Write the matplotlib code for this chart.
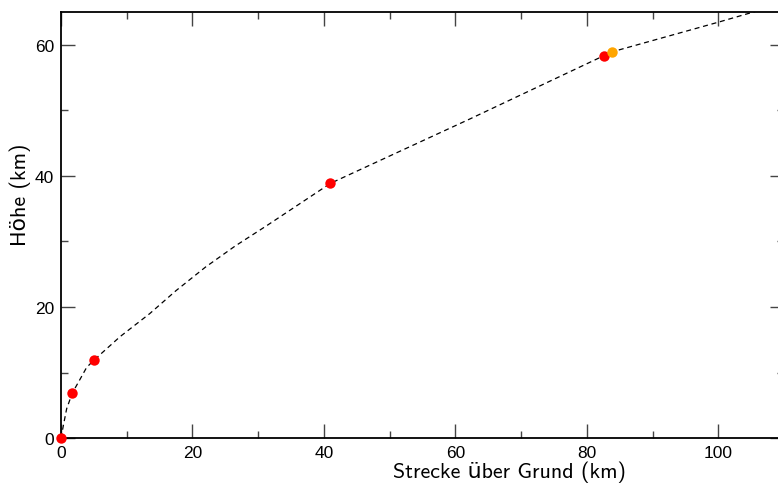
import matplotlib
matplotlib.use("Agg")
import matplotlib.pyplot as plt
from matplotlib.ticker import MultipleLocator

# trajectory (dashed line)
line_x = [0, 0.35, 0.86, 1.72, 2.9, 3.9, 5.0, 9.0, 13.5, 17.5, 22.0, 26.5, 31.3, 41.0, 62.3, 82.6, 83.9, 100, 110]
line_y = [0, 1.9, 4.5, 6.9, 9.0, 10.8, 11.9, 15.5, 19.0, 22.5, 26.1, 29.3, 32.4, 38.85, 48.7, 58.3, 58.9, 63.4, 66.3]

# red markers
red_x = [0, 1.72, 5.0, 41.0, 82.6]
red_y = [0, 6.9, 11.9, 38.85, 58.3]

# orange marker
orange_x = [83.9]
orange_y = [58.9]

xlabel = "Strecke über Grund (km)"
ylabel = "Höhe (km)"

fig = plt.figure(figsize=(7.78, 4.85), dpi=100)
ax = fig.add_axes([0.0784, 0.0942, 1.0077 - 0.0784, 0.9738 - 0.0942])

ax.plot(line_x, line_y, color="black", lw=0.9, dashes=(4, 3), zorder=2)
ax.plot(red_x, red_y, "o", color="#ff0000", ms=7.5, mew=0, zorder=3, clip_on=False)
ax.plot(orange_x, orange_y, "o", color="#ffa500", ms=7.5, mew=0, zorder=3)

ax.set_xlim(0, 110)
ax.set_ylim(0, 65)
ax.xaxis.set_major_locator(MultipleLocator(20))
ax.xaxis.set_minor_locator(MultipleLocator(10))
ax.yaxis.set_major_locator(MultipleLocator(20))
ax.yaxis.set_minor_locator(MultipleLocator(10))

ax.tick_params(which="both", direction="in", top=True, right=True, color="#444444")
ax.tick_params(which="major", length=10, width=1, pad=5, labelsize=12.5)
ax.tick_params(which="minor", length=5, width=1)
for lab in ax.get_xticklabels() + ax.get_yticklabels():
    lab.set_family("Liberation Sans")

for s in ax.spines.values():
    s.set_linewidth(1.3)

lab_font = dict(family=["cmss10", "DejaVu Sans"], size=15.8)
ax.set_xlabel(xlabel, **lab_font)
ax.set_ylabel(ylabel, **lab_font)
ax.xaxis.set_label_coords(0.62, -0.053, transform=ax.transAxes)
ax.yaxis.set_label_coords(-0.042, 0.573, transform=ax.transAxes)

fig.savefig("out.png", dpi=100)
